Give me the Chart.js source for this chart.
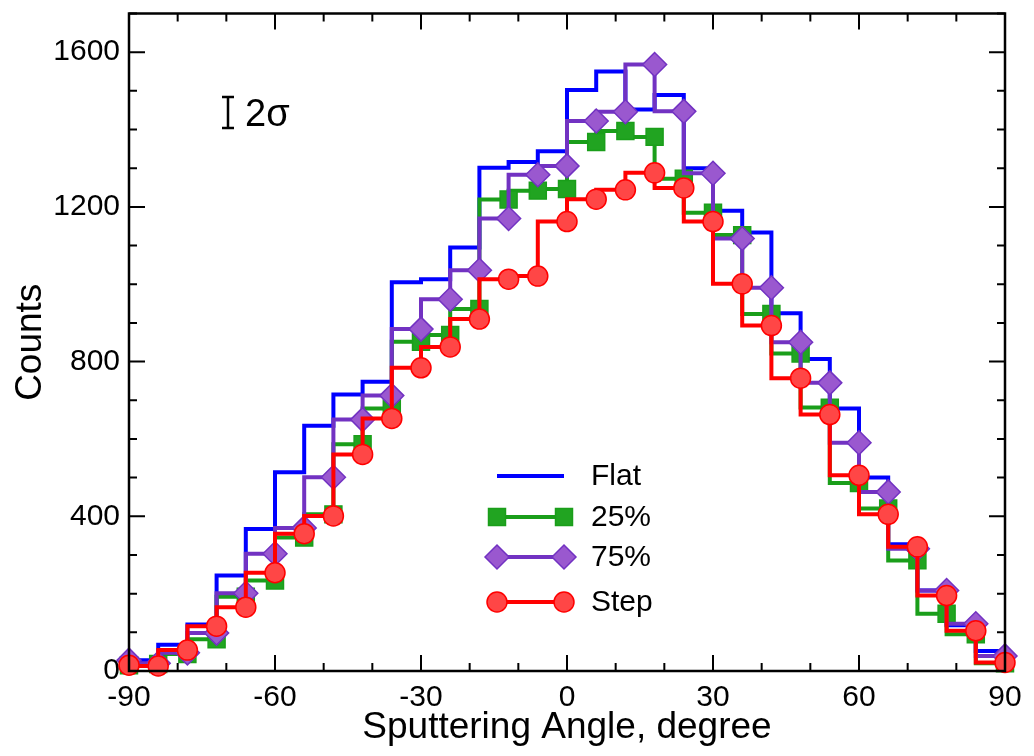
<!DOCTYPE html>
<html>
<head>
<meta charset="utf-8">
<script src="https://cdn.jsdelivr.net/npm/chart.js@4.4.1/dist/chart.umd.min.js"></script>
<style>
  html, body { margin: 0; padding: 0; background: #fff; }
  #wrap { width: 1034px; height: 756px; }
</style>
</head>
<body>
<div id="wrap"><canvas id="grafica"></canvas></div>
<script>
// sputtering angle bins, degree
const angulos = [-90, -84, -78, -72, -66, -60, -54, -48, -42, -36, -30, -24, -18, -12, -6, 0,
  6, 12, 18, 24, 30, 36, 42, 48, 54, 60, 66, 72, 78, 84, 90];

// counts per bin
const flat = [20, 28, 68, 120, 247, 367, 514, 634, 715, 748, 1005, 1013, 1095, 1301, 1316, 1344,
  1502, 1550, 1452, 1489, 1300, 1190, 1134, 925, 807, 679, 500, 328, 208, 118, 52];
const p25 = [15, 18, 44, 82, 192, 234, 345, 405, 586, 679, 851, 869, 936, 1219, 1242, 1246,
  1368, 1396, 1381, 1273, 1185, 1127, 923, 821, 681, 486, 420, 286, 148, 95, 20];
const p75 = [28, 20, 47, 98, 201, 303, 370, 501, 650, 712, 884, 961, 1036, 1170, 1283, 1306,
  1422, 1446, 1568, 1447, 1287, 1118, 991, 850, 745, 590, 463, 316, 208, 122, 39];
const step = [15, 13, 54, 116, 165, 254, 355, 401, 560, 653, 784, 838, 910, 1013, 1021, 1162,
  1220, 1244, 1288, 1249, 1162, 1001, 893, 757, 663, 506, 405, 321, 195, 104, 22];

// ticks
const xEtiquetas = [-90, -60, -30, 0, 30, 60, 90];
const xMenores = [-90, -80, -70, -60, -50, -40, -30, -20, -10, 0, 10, 20, 30, 40, 50, 60, 70, 80, 90];
const yEtiquetas = [0, 400, 800, 1200, 1600];
const yMenores = [0, 100, 200, 300, 400, 500, 600, 700, 800, 900, 1000, 1100, 1200, 1300, 1400, 1500, 1600, 1700];

const FUENTE = "'Liberation Sans', Arial, Helvetica, sans-serif";

const puntos = serie => angulos.map((a, i) => ({ x: a, y: serie[i] }));

const series = [
  { label: 'Flat', data: flat, color: '#0000ff', fill: '#0000ff', estilo: false, radio: 0, orden: 4 },
  { label: '25%', data: p25, color: '#1a9e1a', fill: '#21a421', estilo: 'rect', radio: 12, orden: 3 },
  { label: '75%', data: p75, color: '#7232c2', fill: '#9a58cf', estilo: 'rectRot', radio: 12, orden: 2 },
  { label: 'Step', data: step, color: '#ff0000', fill: '#ff4646', estilo: 'circle', radio: 10, orden: 1 }
];

// frame with inward ticks on all four sides
const marco = {
  id: 'marco',
  afterDatasetsDraw(chart) {
    const { ctx, chartArea: a, scales: { x, y } } = chart;
    ctx.save();
    ctx.strokeStyle = '#000';
    ctx.lineWidth = 2.5;
    ctx.strokeRect(a.left, a.top, a.right - a.left, a.bottom - a.top);
    ctx.lineWidth = 2;
    ctx.beginPath();
    xMenores.forEach(v => {
      const px = x.getPixelForValue(v);
      const len = xEtiquetas.includes(v) ? 16 : 8;
      ctx.moveTo(px, a.bottom); ctx.lineTo(px, a.bottom - len);
      ctx.moveTo(px, a.top); ctx.lineTo(px, a.top + len);
    });
    yMenores.forEach(v => {
      const py = y.getPixelForValue(v);
      const len = yEtiquetas.includes(v) ? 16 : 8;
      ctx.moveTo(a.left, py); ctx.lineTo(a.left + len, py);
      ctx.moveTo(a.right, py); ctx.lineTo(a.right - len, py);
    });
    ctx.stroke();
    ctx.restore();
  }
};

// legend with a marker at each end of the sample line, plus the 2 sigma bar
const leyenda = {
  id: 'leyenda',
  afterDraw(chart) {
    const ctx = chart.ctx;
    const filas = [476, 517, 557, 602];
    ctx.save();
    series.forEach((s, i) => {
      const yy = filas[i];
      ctx.strokeStyle = s.color;
      ctx.lineWidth = 4;
      ctx.beginPath();
      ctx.moveTo(497, yy); ctx.lineTo(564, yy);
      ctx.stroke();
      if (s.estilo) {
        ctx.fillStyle = s.fill;
        ctx.strokeStyle = s.color;
        ctx.lineWidth = 1.5;
        [497, 564].forEach(xx => Chart.helpers.drawPoint(ctx, { pointStyle: s.estilo, radius: s.radio, rotation: 0, borderWidth: 1.5 }, xx, yy));
      }
      ctx.fillStyle = '#000';
      ctx.font = '30px ' + FUENTE;
      ctx.textBaseline = 'middle';
      ctx.textAlign = 'left';
      ctx.fillText(s.label, 591, yy + 1);
    });

    ctx.strokeStyle = '#000';
    ctx.lineWidth = 2.5;
    ctx.beginPath();
    ctx.moveTo(228, 97); ctx.lineTo(228, 128);
    ctx.moveTo(222, 97); ctx.lineTo(234, 97);
    ctx.moveTo(222, 128); ctx.lineTo(234, 128);
    ctx.stroke();
    ctx.fillStyle = '#000';
    ctx.font = '38px ' + FUENTE;
    ctx.textBaseline = 'alphabetic';
    ctx.fillText('2σ', 245, 126);
    ctx.restore();
  }
};

new Chart(document.getElementById('grafica'), {
  type: 'line',
  data: {
    datasets: series.map(s => ({
      label: s.label,
      data: puntos(s.data),
      borderColor: s.color,
      backgroundColor: s.fill,
      pointBackgroundColor: s.fill,
      pointBorderColor: s.color,
      pointBorderWidth: 1.5,
      pointStyle: s.estilo || 'circle',
      pointRadius: s.radio,
      borderWidth: 4,
      stepped: 'after',
      fill: false,
      clip: false,
      order: s.orden
    }))
  },
  options: {
    responsive: true,
    maintainAspectRatio: false,
    animation: false,
    layout: { padding: { top: 11, right: 29, left: 0, bottom: 0 } },
    plugins: {
      legend: { display: false },
      tooltip: { enabled: false }
    },
    scales: {
      x: {
        type: 'linear',
        min: -90,
        max: 90,
        afterBuildTicks: scale => { scale.ticks = xEtiquetas.map(v => ({ value: v })); },
        afterFit: scale => { scale.height = 85; scale.paddingLeft = 0; scale.paddingRight = 0; },
        grid: { display: false, drawTicks: false },
        border: { display: false },
        ticks: { color: '#000', font: { family: FUENTE, size: 30 }, padding: 9, maxRotation: 0, callback: v => String(v) },
        title: { display: true, text: 'Sputtering Angle, degree', color: '#000', font: { family: FUENTE, size: 37 }, padding: { top: 0, bottom: 6 } }
      },
      y: {
        min: 0,
        max: 1700,
        afterBuildTicks: scale => { scale.ticks = yEtiquetas.map(v => ({ value: v })); },
        afterFit: scale => { scale.width = 129; scale.paddingTop = 0; scale.paddingBottom = 0; },
        grid: { display: false, drawTicks: false },
        border: { display: false },
        ticks: { color: '#000', font: { family: FUENTE, size: 30 }, padding: 9, callback: v => String(v) },
        title: { display: true, text: 'Counts', color: '#000', font: { family: FUENTE, size: 37 }, padding: { top: 9, bottom: 0 } }
      }
    }
  },
  plugins: [marco, leyenda]
});
</script>
</body>
</html>
